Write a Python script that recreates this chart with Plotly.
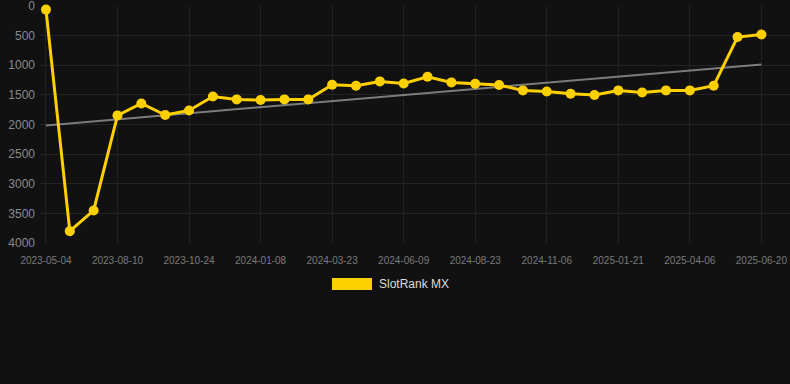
import numpy as np
import plotly.graph_objects as go

dates = [
    "2023-05-04", "2023-06-15", "2023-07-20", "2023-08-10", "2023-09-05", "2023-09-28",
    "2023-10-24", "2023-11-18", "2023-12-13", "2024-01-08", "2024-02-02", "2024-02-27",
    "2024-03-23", "2024-04-18", "2024-05-14", "2024-06-09", "2024-07-04", "2024-07-29",
    "2024-08-23", "2024-09-17", "2024-10-12", "2024-11-06", "2024-12-01", "2024-12-26",
    "2025-01-21", "2025-02-14", "2025-03-11", "2025-04-06", "2025-05-01", "2025-05-26",
    "2025-06-20",
]
rank = [
    60, 3800, 3450, 1846, 1644, 1840, 1762, 1526, 1576, 1587, 1576, 1576,
    1328, 1345, 1272, 1306, 1193, 1289, 1311, 1334, 1424, 1441, 1480, 1502,
    1424, 1458, 1424, 1424, 1345, 523, 479,
]
tick_labels = dates[::3]
y_ticks = [0, 500, 1000, 1500, 2000, 2500, 3000, 3500, 4000]
series_name = "SlotRank MX"

idx = np.arange(len(rank))
slope, intercept = np.polyfit(idx, rank, 1)
trend = (slope * idx + intercept).tolist()

gold = "#FFD000"
fig = go.Figure()
fig.add_trace(go.Scatter(
    x=dates, y=trend, mode="lines",
    line=dict(color="rgba(150,150,150,0.8)", width=2),
    showlegend=False, hoverinfo="skip",
))
fig.add_trace(go.Scatter(
    x=dates, y=rank, mode="lines+markers", name=series_name,
    line=dict(color=gold, width=3),
    marker=dict(color=gold, size=10),
    cliponaxis=False, showlegend=False,
))

W, H = 790, 384
ml, mr, mt, mb = 40, 0, 6, 141
fig.update_layout(
    width=W, height=H,
    margin=dict(l=ml, r=mr, t=mt, b=mb),
    paper_bgcolor="#111111", plot_bgcolor="#111111",
    font=dict(family="Liberation Sans, Arial, sans-serif", color="#888888"),
    showlegend=False,
    xaxis=dict(
        type="category", range=[-0.25, 31.2],
        tickmode="array", tickvals=tick_labels, ticktext=tick_labels,
        showgrid=True, gridcolor="#222222", gridwidth=1,
        zeroline=False, showline=False, ticks="", ticklabelstandoff=10,
        tickfont=dict(size=10, color="#7a7a7a"),
    ),
    yaxis=dict(
        range=[4000, -1], tickmode="array", tickvals=y_ticks,
        showgrid=True, gridcolor="#232323", gridwidth=1,
        zeroline=False, showline=False, ticks="", ticklabelstandoff=4,
        ticklabeloverflow="allow",
        tickfont=dict(size=12, color="#8a8a8a"),
    ),
    shapes=[dict(
        type="rect", xref="paper", yref="paper",
        x0=(332 - ml) / (W - ml - mr), x1=(372 - ml) / (W - ml - mr),
        y0=(H - mb - 290) / (H - mt - mb), y1=(H - mb - 278) / (H - mt - mb),
        fillcolor=gold, line=dict(width=0),
    )],
    annotations=[dict(
        text=series_name, xref="paper", yref="paper",
        x=(377 - ml) / (W - ml - mr), y=(H - mb - 284) / (H - mt - mb),
        xanchor="left", yanchor="middle", showarrow=False,
        font=dict(size=12, color="#dddddd"),
    )],
)
fig.write_html(
    "out.html",
    config={"displayModeBar": False},
    post_script="document.body.style.margin='0';document.body.style.background='#111111';",
)
